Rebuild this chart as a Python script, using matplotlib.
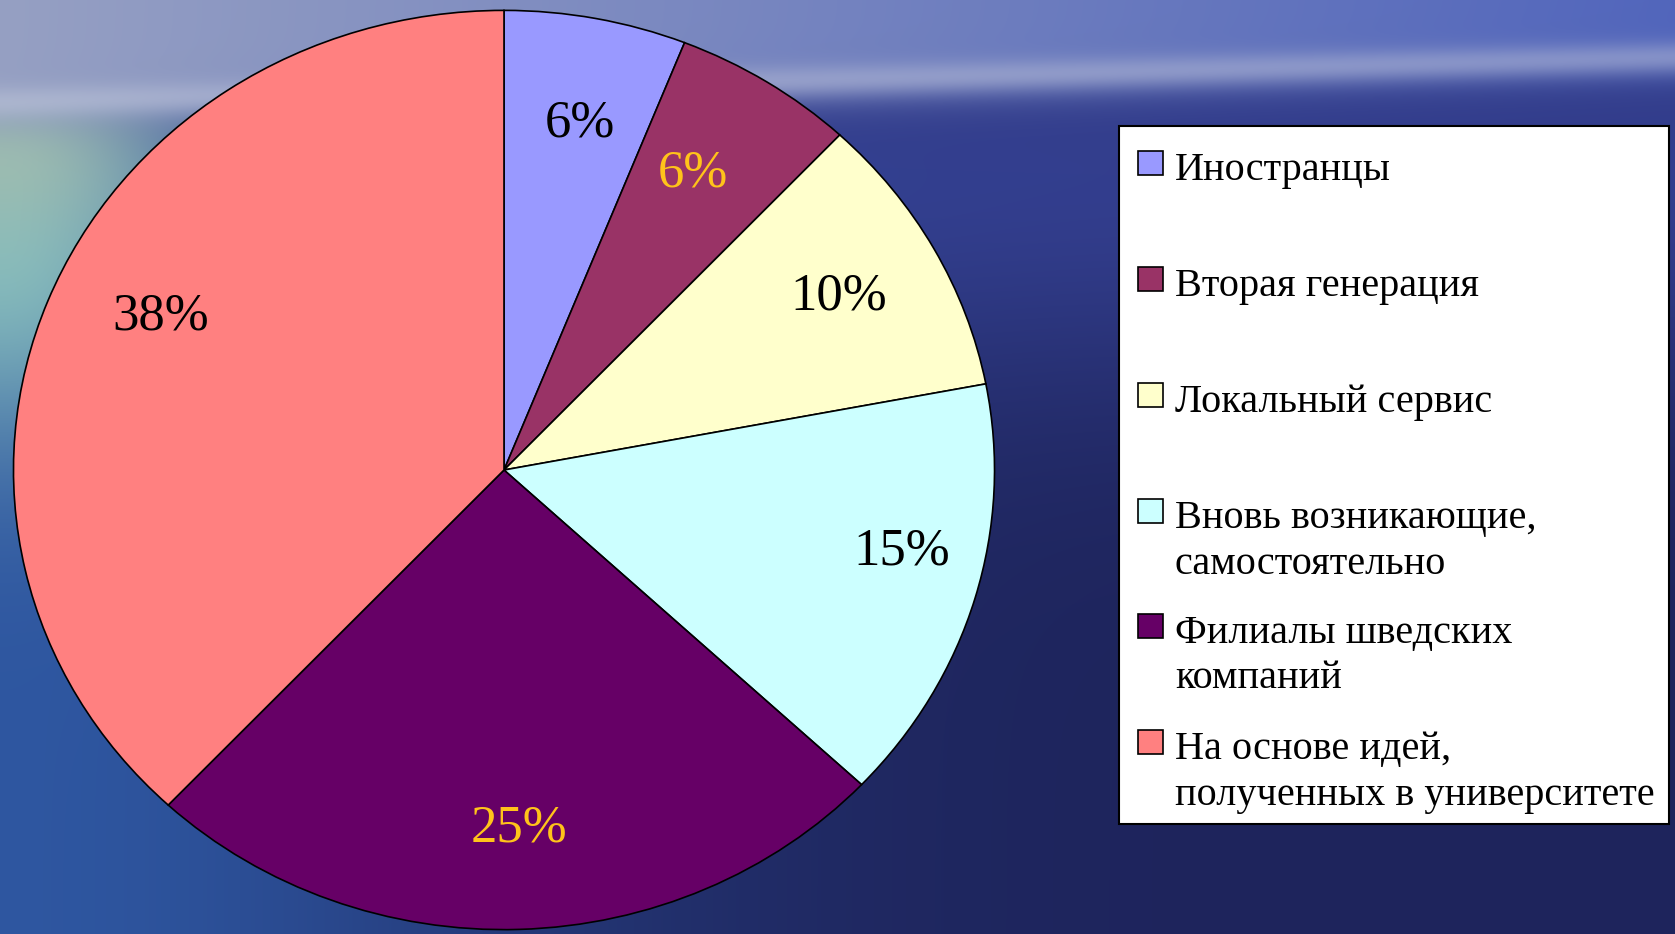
import numpy as np
import matplotlib
matplotlib.use("Agg")
import matplotlib.pyplot as plt
from matplotlib.patches import Rectangle

# ---- data ----
categories = ["Иностранцы", "Вторая генерация", "Локальный сервис",
              "Вновь возникающие,\nсамостоятельно", "Филиалы шведских\nкомпаний",
              "На основе идей,\nполученных в университете"]
values = [6, 6, 10, 15, 25, 38]

# ---- style ----
wedge_colors = ["#9999FF", "#993366", "#FFFFCC", "#CCFFFF", "#660066", "#FF8080"]
label_colors = ["#000000", "#FFC31A", "#000000", "#000000", "#FFC31A", "#000000"]
# per-label placement tweaks: (radius, angle offset in degrees from wedge middle)
label_r = [0.77, 0.75, 0.78, 0.83, 0.78, 0.775]
label_dang = [-0.8, 1.6, 0.2, 3.8, 0.4, -3.9]
W, H = 1675, 934
plt.rcParams["font.family"] = ["Liberation Serif", "DejaVu Serif"]

fig = plt.figure(figsize=(W / 100, H / 100), dpi=100)

# ---- background (sky / sea) ----
yy, xx = np.mgrid[0:H, 0:W].astype(float)
def blend(img, w, col):
    col = np.array(col) / 255
    return img * (1 - w[..., None]) + col * w[..., None]

img = np.zeros((H, W, 3))
img[:] = np.array([30, 36, 92]) / 255
# lighter blue band on the right under the horizon
wr = np.exp(-((yy - 170) / 230.0) ** 2) * 0.75
img = blend(img, wr, (58, 70, 158))
# blue sea on the left
wl = np.exp(-(xx / 560.0) ** 2) * (1 / (1 + np.exp(-(yy - 140) / 25)))
img = blend(img, wl * 0.9, (48, 92, 168))
# pale teal glow at left edge
wt = np.exp(-(xx / 200.0) ** 2 - ((yy - 260) / 190.0) ** 2) * 0.9
img = blend(img, wt, (140, 195, 190))
wg = np.exp(-(xx / 160.0) ** 2 - ((yy - 150) / 90.0) ** 2) * 0.7
img = blend(img, wg, (175, 200, 175))
# sky
t = (xx / W)
sky = np.stack([(1 - t) * 150 + t * 82, (1 - t) * 160 + t * 102, (1 - t) * 195 + t * 188], -1) / 255
horizon = 120 - 45 * t
ws = 1 / (1 + np.exp(-(horizon - yy) / 12))
img = img * (1 - ws[..., None]) + sky * ws[..., None]
wh = np.exp(-((yy - (horizon - 18)) / 16.0) ** 2) * 0.45
img = blend(img, wh, (200, 205, 225))
bg = fig.add_axes([0, 0, 1, 1])
bg.imshow(np.clip(img, 0, 1), aspect="auto", extent=(0, W, H, 0), interpolation="bilinear")
bg.set_xlim(0, W)
bg.set_ylim(H, 0)
bg.axis("off")

# ---- pie (elliptical) ----
cx, cy, rx, ry = 504, 470, 492, 461
ax = fig.add_axes([(cx - rx) / W, (H - cy - ry) / H, 2 * rx / W, 2 * ry / H])
wedges, texts, autotexts = ax.pie(
    values, colors=wedge_colors, startangle=90, counterclock=False,
    autopct=lambda p: f"{p:.0f}%", pctdistance=0.77,
    wedgeprops=dict(edgecolor="black", linewidth=1.2),
    textprops=dict(fontsize=38))
for w, at, c, r, da in zip(wedges, autotexts, label_colors, label_r, label_dang):
    mid = np.deg2rad((w.theta1 + w.theta2) / 2 + da)
    at.set_position((r * np.cos(mid), r * np.sin(mid)))
    at.set_color(c)
ax.set_aspect("auto")
ax.set_xlim(-1.003, 1.003)
ax.set_ylim(-1.003, 1.003)
ax.axis("off")

# ---- legend (drawn in pixel coords on background axes) ----
bg.add_patch(Rectangle((1118.5, 125.5), 1668.5 - 1118.5, 823.5 - 125.5,
                       facecolor="white", edgecolor="black", linewidth=1.5, zorder=5))
baselines = [180, 296, 412, 528, 643, 759]
line_gap = 45.5
for lab, col, base in zip(categories, wedge_colors, baselines):
    bg.add_patch(Rectangle((1138, base - 29), 25, 24, facecolor=col,
                           edgecolor="black", linewidth=1.2, zorder=6))
    for i, line in enumerate(lab.split("\n")):
        bg.text(1175, base + i * line_gap, line, fontsize=29, color="black",
                ha="left", va="baseline", zorder=7)

fig.savefig("out.png", dpi=100)
